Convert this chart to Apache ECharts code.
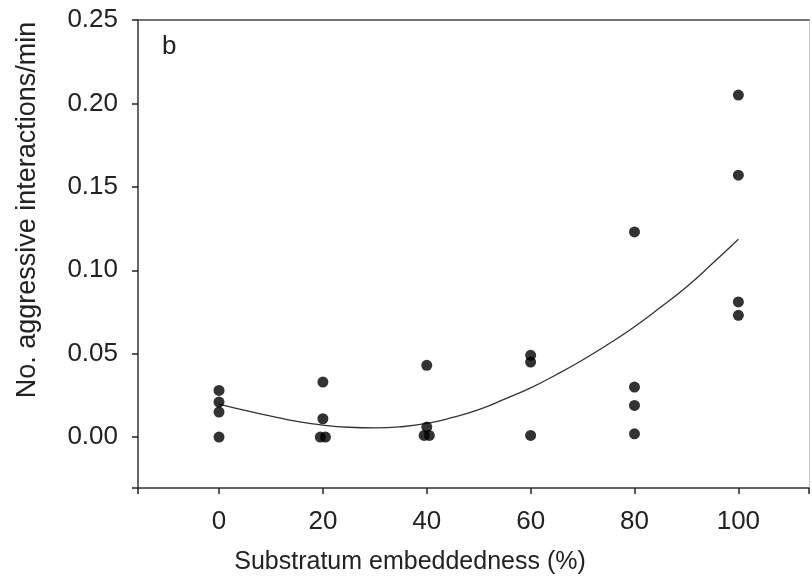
<!DOCTYPE html>
<html>
<head>
<meta charset="utf-8">
<script src="https://cdn.jsdelivr.net/npm/echarts@6/dist/echarts.min.js"></script>
<style>html,body{margin:0;padding:0;background:#fff;}#c{width:812px;height:582px;}</style>
</head>
<body>
<div id="c"></div>
<script>
// Scatter observations
var pointX = [0, 0, 0, 0, 20, 20, 19.5, 20.5, 40, 40, 39.5, 40.5, 60, 60, 60, 80, 80, 80, 80, 100, 100, 100, 100];
var pointY = [0.028, 0.021, 0.015, 0.000, 0.033, 0.011, 0.000, 0.000, 0.043, 0.006, 0.001, 0.001, 0.049, 0.045, 0.001, 0.123, 0.030, 0.019, 0.002, 0.205, 0.157, 0.081, 0.073];
// Fitted curve
var curveX = [0, 5, 10, 15, 20, 25, 30, 35, 40, 45, 50, 55, 60, 65, 70, 75, 80, 85, 90, 95, 100];
var curveY = [0.0198, 0.0160, 0.0126, 0.0094, 0.0072, 0.0059, 0.0055, 0.0062, 0.0082, 0.0118, 0.0165, 0.0228, 0.0295, 0.0375, 0.0462, 0.0558, 0.0662, 0.0778, 0.0900, 0.1040, 0.1186];
// Tick labels
var xTicks = [0, 20, 40, 60, 80, 100];
var yTicks = [0.00, 0.05, 0.10, 0.15, 0.20, 0.25];
var xTitle = 'Substratum embeddedness (%)';
var yTitle = 'No. aggressive interactions/min';
var panelLabel = 'b';

var FONT = 'Liberation Sans, Arial, sans-serif';
var chart = echarts.init(document.getElementById('c'), null, {renderer: 'canvas'});
function pairs(xs, ys) { return xs.map(function (x, i) { return [x, ys[i]]; }); }
function inList(v, list) { return list.some(function (t) { return Math.abs(t - v) < 1e-6; }); }

chart.setOption({
  animation: false,
  backgroundColor: '#fff',
  grid: {left: 138, top: 20, right: 2, bottom: 94, containLabel: false},
  xAxis: [{
    type: 'value', min: -15.6, max: 113.6, splitNumber: 6,
    axisLine: {show: true, onZero: false, lineStyle: {color: '#333', width: 1.5}},
    axisTick: {show: true, inside: false, length: 6, lineStyle: {color: '#222', width: 1.5}},
    axisLabel: {margin: 21, fontSize: 26, color: '#222', fontFamily: FONT,
      formatter: function (v) { return inList(v, xTicks) ? String(Math.round(v)) : ''; }},
    splitLine: {show: false}
  }, {
    type: 'value', position: 'top', min: -15.6, max: 113.6,
    axisLine: {show: true, onZero: false, lineStyle: {color: '#444', width: 1.5}},
    axisTick: {show: false}, axisLabel: {show: false}, splitLine: {show: false}
  }],
  yAxis: [{
    type: 'value', min: -0.0305, max: 0.25, splitNumber: 6,
    axisLine: {show: true, onZero: false, lineStyle: {color: '#333', width: 1.5}},
    axisTick: {show: true, inside: false, length: 6, lineStyle: {color: '#222', width: 1.5}},
    axisLabel: {margin: 20, fontSize: 26, color: '#222', fontFamily: FONT,
      formatter: function (v) { return inList(v, yTicks) ? v.toFixed(2) : ''; }},
    splitLine: {show: false}
  }, {
    type: 'value', position: 'right', min: -0.0305, max: 0.25,
    axisLine: {show: true, onZero: false, lineStyle: {color: '#ccc', width: 1}},
    axisTick: {show: false}, axisLabel: {show: false}, splitLine: {show: false}
  }],
  graphic: [
    {type: 'text', x: 410, y: 562, style: {text: xTitle, fontSize: 25, fontFamily: FONT, fill: '#222', textAlign: 'center', textVerticalAlign: 'middle'}},
    {type: 'text', x: 28, y: 210, rotation: Math.PI / 2, style: {text: yTitle, fontSize: 27, fontFamily: FONT, fill: '#222', textAlign: 'center', textVerticalAlign: 'middle'}},
    {type: 'text', x: 162, y: 60, style: {text: panelLabel, fontSize: 26, fontFamily: FONT, fill: '#222', textAlign: 'left', textVerticalAlign: 'bottom'}}
  ],
  series: [{
    type: 'line', xAxisIndex: 0, yAxisIndex: 0,
    data: pairs(curveX, curveY), smooth: true, showSymbol: false, symbol: 'none',
    lineStyle: {color: '#333', width: 1.3}, z: 2
  }, {
    type: 'scatter', xAxisIndex: 0, yAxisIndex: 0,
    data: pairs(pointX, pointY), symbol: 'circle', symbolSize: 11,
    itemStyle: {color: '#000'}, z: 3
  }]
});
</script>
</body>
</html>
